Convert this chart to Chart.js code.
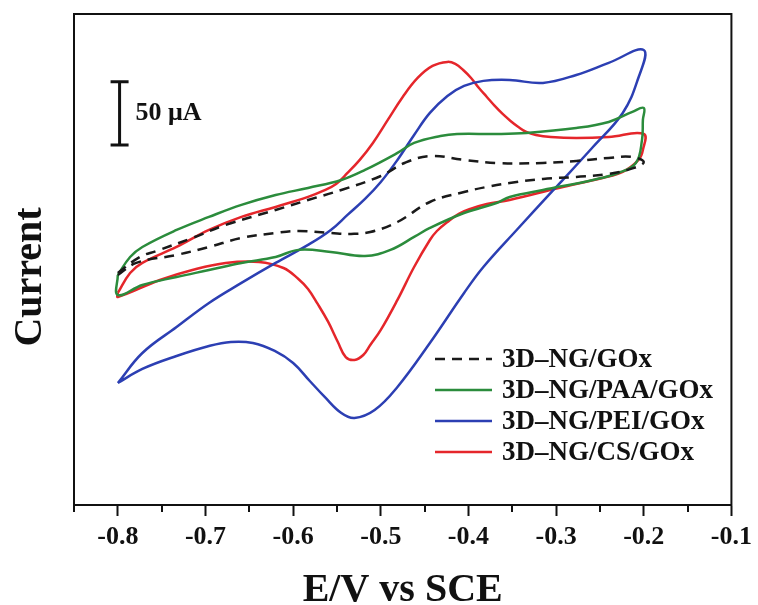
<!DOCTYPE html>
<html>
<head>
<meta charset="utf-8">
<script src="https://cdn.jsdelivr.net/npm/chart.js@4/dist/chart.umd.min.js"></script>
<style>
  html, body { margin: 0; background: #fff; }
</style>
</head>
<body>
<canvas id="cvChart" width="758" height="605"></canvas>
<script>
// potentials (V vs SCE) and currents (uA), one closed loop each
const ngE = [-0.800, -0.775, -0.756, -0.715, -0.677, -0.620, -0.583, -0.545, -0.500, -0.473, -0.444, -0.405, -0.368, -0.315, -0.277, -0.240, -0.213, -0.200,
  -0.211, -0.240, -0.277, -0.315, -0.353, -0.379, -0.405, -0.444, -0.481, -0.512, -0.534, -0.557, -0.594, -0.620, -0.659, -0.696, -0.733, -0.779, -0.800];
const ngI = [24.8, 37.4, 42.1, 52.4, 62.7, 74.5, 82.4, 90.3, 101.3, 111.6, 117.1, 114.0, 111.6, 111.6, 113.2, 115.6, 116.3, 112.4,
  107.7, 102.9, 100.6, 99.0, 95.8, 92.7, 88.7, 80.8, 65.0, 57.1, 55.6, 56.3, 57.9, 56.3, 52.4, 45.3, 39.0, 32.7, 23.2];

const paaE = [-0.800, -0.786, -0.772, -0.733, -0.696, -0.659, -0.620, -0.583, -0.545, -0.518, -0.481, -0.462, -0.432, -0.413, -0.368, -0.334, -0.277, -0.240, -0.213, -0.200,
  -0.201, -0.202, -0.209, -0.229, -0.258, -0.315, -0.353, -0.368, -0.405, -0.444, -0.462, -0.489, -0.518, -0.557, -0.594, -0.620, -0.659, -0.696, -0.733, -0.772, -0.800, -0.800];
const paaI = [23.2, 37.4, 45.3, 58.7, 69.0, 78.5, 86.3, 91.9, 98.2, 106.1, 119.5, 127.4, 132.9, 134.5, 134.5, 135.3, 139.2, 144.0, 151.9, 155.0,
  145.6, 129.8, 111.6, 103.7, 98.2, 90.3, 84.8, 80.0, 72.1, 60.3, 53.2, 43.0, 38.2, 41.4, 43.0, 37.4, 32.7, 27.1, 21.6, 15.3, 7.4, 23.2];

const peiE = [-0.800, -0.772, -0.733, -0.696, -0.659, -0.620, -0.583, -0.557, -0.538, -0.518, -0.500, -0.481, -0.462, -0.444, -0.424, -0.405, -0.383, -0.353, -0.315, -0.277, -0.240, -0.200,
  -0.207, -0.224, -0.258, -0.303, -0.345, -0.383, -0.405, -0.444, -0.481, -0.507, -0.530, -0.545, -0.564, -0.581, -0.600, -0.621, -0.646, -0.671, -0.696, -0.733, -0.772, -0.800];
const peiI = [-62.1, -38.4, -17.9, 1.1, 16.9, 32.7, 46.9, 58.7, 70.6, 83.2, 96.6, 114.0, 133.7, 151.1, 164.5, 172.4, 176.4, 177.1, 174.8, 181.1, 190.6, 200.8,
  177.1, 151.1, 124.2, 90.3, 58.7, 29.5, 9.0, -30.5, -65.2, -83.4, -89.7, -85.8, -73.1, -60.5, -46.3, -36.8, -30.5, -29.7, -32.9, -40.8, -51.0, -62.1];

const csE = [-0.800, -0.786, -0.772, -0.733, -0.696, -0.659, -0.620, -0.583, -0.566, -0.551, -0.538, -0.524, -0.509, -0.492, -0.475, -0.458, -0.441, -0.424,
  -0.415, -0.406, -0.397, -0.388, -0.379, -0.370, -0.361, -0.352, -0.343, -0.334, -0.323, -0.306, -0.277, -0.240, -0.200,
  -0.201, -0.206, -0.224, -0.247, -0.297, -0.353, -0.379, -0.398, -0.411, -0.424, -0.436, -0.444, -0.462, -0.481, -0.500, -0.512, -0.520, -0.530, -0.540, -0.549, -0.560, -0.572, -0.583, -0.594, -0.611, -0.639, -0.677, -0.715, -0.752, -0.800, -0.800];
const csI = [9.0, 24.8, 32.7, 45.3, 58.7, 69.0, 76.9, 84.8, 89.5, 95.0, 103.7, 114.0, 127.4, 145.6, 163.7, 178.7, 188.2, 191.4,
  189.8, 185.0, 178.7, 170.8, 163.7, 156.6, 150.3, 144.8, 140.0, 136.1, 133.7, 132.1, 131.3, 132.1, 134.5,
  121.9, 114.0, 104.5, 99.8, 91.9, 82.4, 79.2, 75.3, 71.4, 65.0, 57.9, 50.8, 29.5, 3.5, -20.2, -32.1, -40.0, -43.9, -41.6, -29.7, -13.9, 0.3, 12.1, 20.0, 28.7, 33.5, 32.7, 27.1, 19.2, 5.8, 9.0];

const seriesLabels = ["3D\u2013NG/GOx", "3D\u2013NG/PAA/GOx", "3D\u2013NG/PEI/GOx", "3D\u2013NG/CS/GOx"];
const xMin = -0.85;
const xMax = -0.1;
const yMin = -158.4;
const yMax = 229.2;
const xTitle = "E/V vs SCE";
const yTitle = "Current";

// 50 uA scale bar
const barE = -0.798;
const barLow = 125.8;
const barHigh = 175.8;
const barLabel = "50 \u03bcA";

const serif = "'Liberation Serif', 'Times New Roman', serif";
const ink = "#111";

function toPoints(xs, ys) {
  return xs.map((x, i) => ({ x: x, y: ys[i] }));
}

function isMajor(v) {
  return Math.abs(Math.round(v * 10) - v * 10) < 1e-6;
}

function cvDataset(label, xs, ys, color, dash) {
  return {
    label: label,
    data: toPoints(xs, ys),
    showLine: true,
    borderColor: color,
    backgroundColor: color,
    borderWidth: 2.5,
    borderDash: dash,
    pointRadius: 0,
    tension: 0.4,
  };
}

// frame, minor ticks, y title, scale bar text and the legend
const decorPlugin = {
  id: "decor",
  afterDraw(chart) {
    const ctx = chart.ctx;
    const area = chart.chartArea;
    const xs = chart.scales.x;
    const ys = chart.scales.y;
    ctx.save();
    ctx.strokeStyle = ink;
    ctx.lineWidth = 2;
    ctx.setLineDash([]);
    ctx.strokeRect(area.left, area.top, area.right - area.left, area.bottom - area.top);

    xs.ticks.forEach((t) => {
      if (isMajor(t.value)) return;
      const px = Math.round(xs.getPixelForValue(t.value));
      ctx.beginPath();
      ctx.moveTo(px, area.bottom);
      ctx.lineTo(px, area.bottom + 7);
      ctx.stroke();
    });

    ctx.fillStyle = ink;
    ctx.save();
    ctx.translate(41, 277);
    ctx.rotate(-Math.PI / 2);
    ctx.font = "bold 40px " + serif;
    ctx.textAlign = "center";
    ctx.textBaseline = "alphabetic";
    ctx.fillText(yTitle, 0, 0);
    ctx.restore();

    ctx.font = "bold 26px " + serif;
    ctx.textBaseline = "middle";
    ctx.textAlign = "left";
    ctx.fillText(barLabel, xs.getPixelForValue(barE) + 16, ys.getPixelForValue((barLow + barHigh) / 2));

    ctx.font = "bold 27px " + serif;
    seriesLabels.forEach((name, i) => {
      const ds = chart.data.datasets[i];
      const y = 359 + i * 31;
      ctx.strokeStyle = ds.borderColor;
      ctx.lineWidth = 2.5;
      ctx.setLineDash(ds.borderDash || []);
      ctx.beginPath();
      ctx.moveTo(435, y);
      ctx.lineTo(492, y);
      ctx.stroke();
      ctx.fillText(name, 502, y + 1);
    });
    ctx.restore();
  },
};

const ctx = document.querySelector("#cvChart");
const cvChart = new Chart(ctx, {
  type: "scatter",
  data: {
    datasets: [
      cvDataset(seriesLabels[0], ngE, ngI, "#1a1a1a", [10, 7]),
      cvDataset(seriesLabels[1], paaE, paaI, "#2b8c3c", []),
      cvDataset(seriesLabels[2], peiE, peiI, "#2c3fb3", []),
      cvDataset(seriesLabels[3], csE, csI, "#e5262b", []),
      {
        label: "bar",
        data: [{ x: barE, y: barLow }, { x: barE, y: barHigh }],
        showLine: true,
        borderColor: ink,
        borderWidth: 3,
        pointStyle: "line",
        pointRadius: 9,
        pointBorderWidth: 3,
        pointBorderColor: ink,
      },
    ],
  },
  options: {
    responsive: false,
    animation: false,
    devicePixelRatio: 1,
    layout: { padding: { left: 5, right: 21, top: 14, bottom: 0 } },
    plugins: {
      legend: { display: false },
      tooltip: { enabled: false },
    },
    scales: {
      x: {
        type: "linear",
        min: xMin,
        max: xMax,
        afterFit(scale) {
          scale.height = 100;
        },
        ticks: {
          stepSize: 0.05,
          autoSkip: false,
          maxRotation: 0,
          padding: 6,
          color: ink,
          font: { family: serif, weight: "bold", size: 26 },
          callback: (v) => (isMajor(v) ? v.toFixed(1) : ""),
        },
        grid: {
          drawOnChartArea: false,
          tickLength: 11,
          tickWidth: 2,
          tickColor: (c) => (c.tick && isMajor(c.tick.value) ? ink : "rgba(0,0,0,0)"),
        },
        border: { color: ink, width: 2 },
        title: {
          display: true,
          text: xTitle,
          color: ink,
          font: { family: serif, weight: "bold", size: 40, lineHeight: 1 },
          padding: { top: 0, bottom: -6 },
        },
      },
      y: {
        min: yMin,
        max: yMax,
        afterFit(scale) {
          scale.width = 69;
        },
        ticks: { display: false },
        grid: { display: false },
        border: { color: ink, width: 2 },
        title: { display: false },
      },
    },
  },
  plugins: [decorPlugin],
});
</script>
</body>
</html>
